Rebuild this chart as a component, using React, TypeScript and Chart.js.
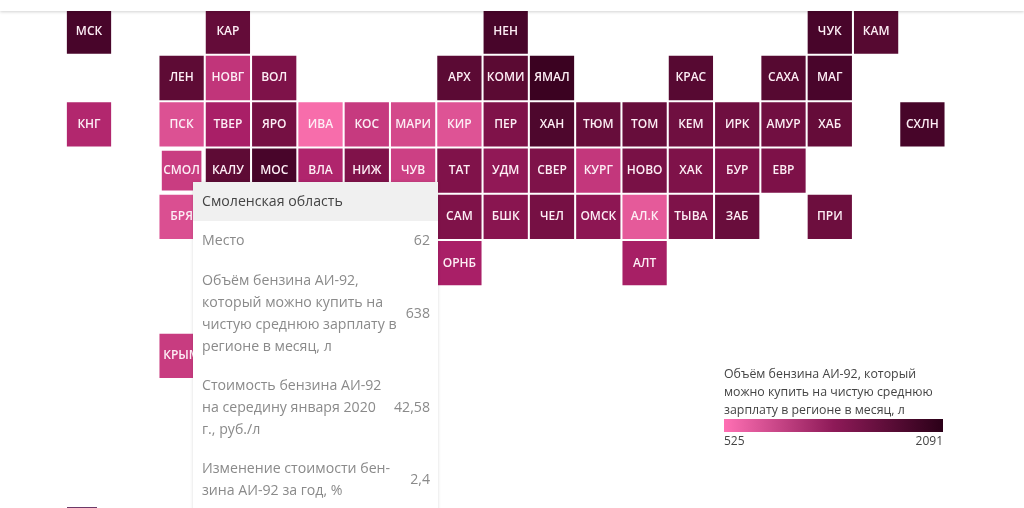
import React, { useEffect, useRef } from "react";
import { Chart, registerables } from "chart.js";

Chart.register(...registerables);

const FONT = '"Open Sans", sans-serif';

// Tile map: region codes with their grid column / row and litres value
const regions = [
  "МСК","КАР","НЕН","ЧУК","КАМ",
  "ЛЕН","НОВГ","ВОЛ","АРХ","КОМИ","ЯМАЛ","КРАС","САХА","МАГ",
  "КНГ","ПСК","ТВЕР","ЯРО","ИВА","КОС","МАРИ","КИР","ПЕР","ХАН","ТЮМ","ТОМ","КЕМ","ИРК","АМУР","ХАБ","СХЛН",
  "СМОЛ","КАЛУ","МОС","ВЛА","НИЖ","ЧУВ","ТАТ","УДМ","СВЕР","КУРГ","НОВО","ХАК","БУР","ЕВР",
  "БРЯ","САМ","БШК","ЧЕЛ","ОМСК","АЛ.К","ТЫВА","ЗАБ","ПРИ",
  "ОРНБ","АЛТ",
  "КРЫМ",
];
const columns = [
  0,3,9,16,17,
  2,3,4,8,9,10,13,15,16,
  0,2,3,4,5,6,7,8,9,10,11,12,13,14,15,16,18,
  2,3,4,5,6,7,8,9,10,11,12,13,14,15,
  2,8,9,10,11,12,13,14,16,
  8,12,
  2,
];
const rows = [
  0,0,0,0,0,
  1,1,1,1,1,1,1,1,1,
  2,2,2,2,2,2,2,2,2,2,2,2,2,2,2,2,2,
  3,3,3,3,3,3,3,3,3,3,3,3,3,3,
  4,4,4,4,4,4,4,4,4,
  5,5,
  7,
];
const litres = [
  1700,1250,1700,1700,1450,
  1300,680,1020,1350,1360,1900,1420,1450,1680,
  760,590,810,1100,525,650,610,585,1010,1600,1220,1220,1150,1150,1130,1240,1720,
  638,1300,1700,770,1000,630,1000,920,1020,670,1060,1020,1000,1030,
  595,1010,960,1090,940,570,1020,1200,1170,
  810,820,
  640,
];

const scaleValues = [525, 640, 800, 1000, 1300, 1700, 2091];
const scaleColors = ["#f76dab", "#c83c80", "#ab2068", "#80124a", "#5e0b35", "#48052a", "#2e0019"];

const legendTitle = ["Объём бензина АИ-92, который", "можно купить на чистую среднюю", "зарплату в регионе в месяц, л"];
const legendMin = "525";
const legendMax = "2091";

const tooltipTitle = "Смоленская область";
const tooltipRows: [string[], string, number][] = [
  [["Место"], "62", 18],
  [["Объём бензина АИ-92,", "который можно купить на", "чистую среднюю зарплату в", "регионе в месяц, л"], "638", 17],
  [["Стоимость бензина АИ-92", "на середину января 2020", "г., руб./л"], "42,58", 17],
  [["Изменение стоимости бен-", "зина АИ-92 за год, %"], "2,4", 0],
];

const hex = (c: string) => [1, 3, 5].map((i) => parseInt(c.slice(i, i + 2), 16));
function colorOf(v: number) {
  let i = 0;
  while (i < scaleValues.length - 2 && v > scaleValues[i + 1]) i++;
  const t = Math.min(1, Math.max(0, (v - scaleValues[i]) / (scaleValues[i + 1] - scaleValues[i])));
  const a = hex(scaleColors[i]);
  const b = hex(scaleColors[i + 1]);
  return `rgb(${a.map((x, k) => Math.round(x + (b[k] - x) * t)).join(",")})`;
}

const W = 1024;
const H = 508;
const PITCH = 46.3;
const X0 = 89;
const Y0 = 31.7;

const tileLabels = {
  id: "tileLabels",
  afterDatasetsDraw(chart: any) {
    const { ctx } = chart;
    const meta = chart.getDatasetMeta(0);
    ctx.save();
    ctx.textAlign = "center";
    ctx.textBaseline = "middle";
    ctx.fillStyle = "#fdeef5";
    ctx.font = `600 12px ${FONT}`;
    meta.data.forEach((p: any, i: number) => {
      ctx.fillText(regions[i], p.x, p.y);
    });
    ctx.restore();
  },
};

export default function App() {
  const ref = useRef<HTMLCanvasElement>(null);
  useEffect(() => {
    const chart = new Chart(ref.current!, {
      type: "scatter",
      data: {
        datasets: [
          {
            data: regions.map((_, i) => ({ x: columns[i], y: rows[i] })),
            pointStyle: "rect",
            pointRadius: regions.map((r) => (r === "СМОЛ" ? 28 : 31.3)),
            pointHoverRadius: regions.map((r) => (r === "СМОЛ" ? 28 : 31.3)),
            pointBorderWidth: 0,
            pointBackgroundColor: litres.map(colorOf),
          },
        ],
      },
      options: {
        animation: false,
        responsive: false,
        events: [],
        layout: { padding: 0, autoPadding: false },
        plugins: { legend: { display: false }, tooltip: { enabled: false } },
        scales: {
          x: { type: "linear", display: false, bounds: "data", min: -X0 / PITCH, max: (W - X0) / PITCH },
          y: { type: "linear", display: false, bounds: "data", reverse: true, min: -Y0 / PITCH, max: (H - Y0) / PITCH },
        },
      },
      plugins: [tileLabels],
    });
    return () => chart.destroy();
  }, []);

  return (
    <div style={{ position: "fixed", inset: 0, width: W, height: H, overflow: "hidden", background: "#fff", fontFamily: FONT }}>
      <canvas ref={ref} width={W} height={H} style={{ position: "absolute", left: 0, top: 0, width: W, height: H }} />
      <div style={{ position: "absolute", left: 0, top: 0, width: W, height: 11, background: "#fff", boxShadow: "0 1px 3px rgba(0,0,0,0.18)" }} />
      <div style={{ position: "absolute", left: 67, top: 507, width: 30, height: 1, background: "#6d3a68" }} />

      <div style={{ position: "absolute", left: 193, top: 182, width: 245, height: 340, background: "#fff", boxShadow: "0 0 3px rgba(0,0,0,0.15)", color: "#8a8a8a", fontSize: 14.15, lineHeight: "22px" }}>
        <div style={{ height: 39, background: "#f0f0f0", color: "#444", padding: "8px 9px 0", boxSizing: "border-box" }}>{tooltipTitle}</div>
        <div style={{ padding: "8px 8px 0 9px" }}>
          {tooltipRows.map(([label, value, gap], i) => (
            <div key={i} style={{ display: "flex", justifyContent: "space-between", alignItems: "center", marginBottom: gap }}>
              <div style={{ whiteSpace: "nowrap" }}>
                {label.map((l) => (
                  <div key={l}>{l}</div>
                ))}
              </div>
              <div>{value}</div>
            </div>
          ))}
        </div>
      </div>

      <div style={{ position: "absolute", left: 724, top: 365, width: 219, color: "#444", fontSize: 12.35, lineHeight: "18px" }}>
        {legendTitle.map((l) => (
          <div key={l} style={{ whiteSpace: "nowrap" }}>{l}</div>
        ))}
        <div style={{ height: 13, marginTop: 0, background: "linear-gradient(to right, #ff70b4 0%, #8e1a58 50%, #2b0018 100%)" }} />
        <div style={{ display: "flex", justifyContent: "space-between", fontSize: 12, lineHeight: "16px", marginTop: 1 }}>
          <span>{legendMin}</span>
          <span>{legendMax}</span>
        </div>
      </div>
    </div>
  );
}
